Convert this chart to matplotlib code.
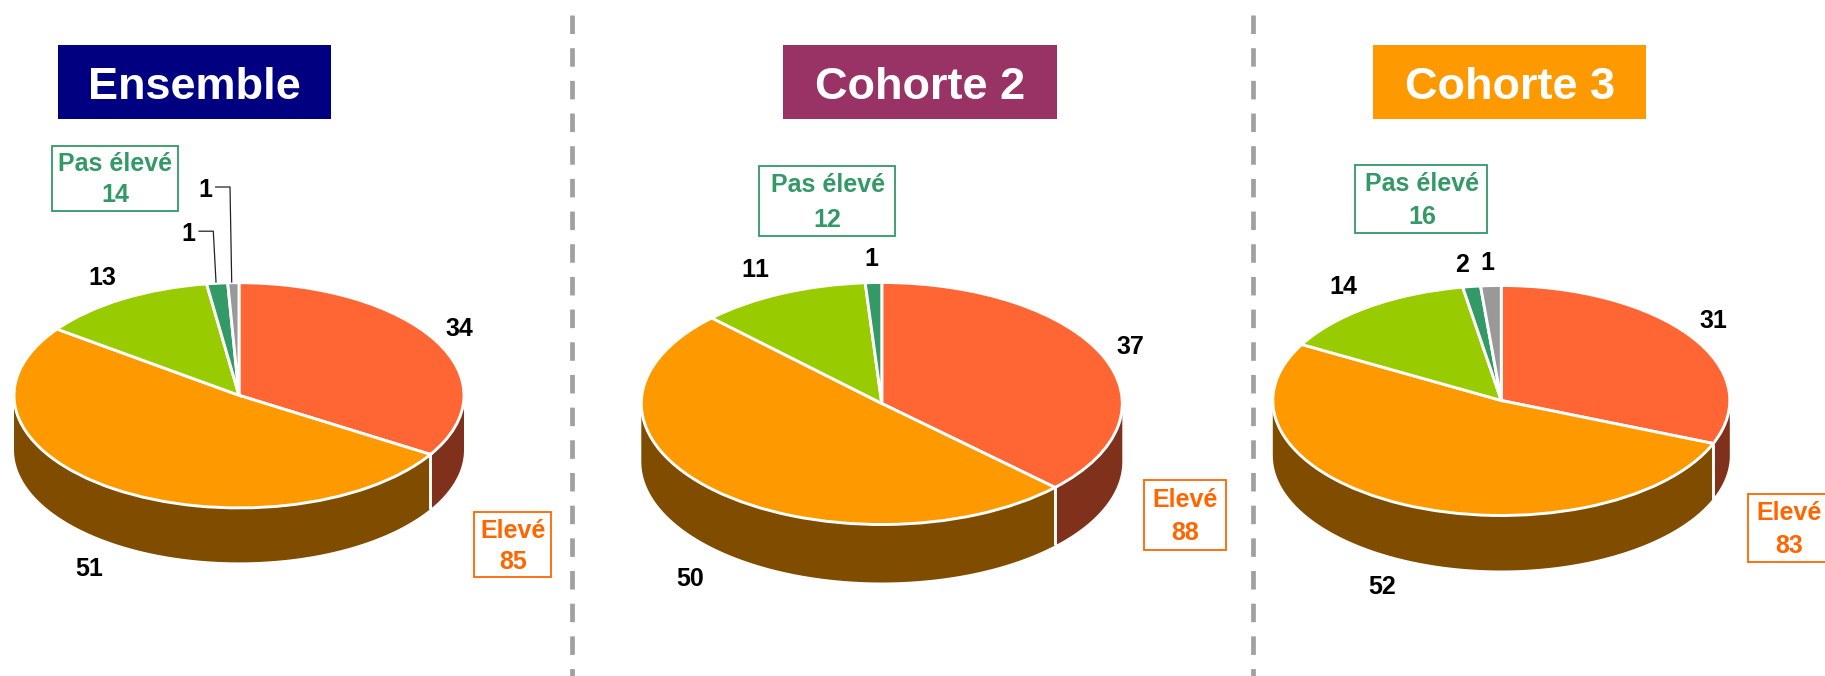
import numpy as np
import matplotlib
matplotlib.use("Agg")
import matplotlib.pyplot as plt
from matplotlib.patches import Rectangle

plt.rcParams['font.family'] = ['Liberation Sans', 'DejaVu Sans']
plt.rcParams['text.kerning_factor'] = 6

# ---------- data ----------
panel_titles = ["Ensemble", "Cohorte 2", "Cohorte 3"]
# printed slice labels
ensemble_labels = [34, 51, 13, 1, 1]
cohorte2_labels = [37, 50, 11, 1]
cohorte3_labels = [31, 52, 14, 2, 1]
# slice shares
ensemble_shares = [33.8, 51.2, 12.7, 1.5, 0.8]
cohorte2_shares = [37.2, 50.3, 11.4, 1.1]
cohorte3_shares = [31.1, 52.0, 14.2, 1.25, 1.45]
eleve_totals = [85, 88, 83]
pas_eleve_totals = [14, 12, 16]
eleve_label = "Elevé"
pas_eleve_label = "Pas élevé"

# ---------- styles and layout (pixels of the 1825x676 figure) ----------
W, H = 1825, 676
top_colors = ["#FF6633", "#FF9900", "#99CC00", "#339966", "#999999"]
side_colors = ["#7F311B", "#7F4C00", "#4C6600", "#194C33", "#4C4C4C"]
title_colors = ["#000080", "#993366", "#FF9900"]
GREEN, ORANGE = "#339966", "#FF6600"

panels = [
    dict(shares=ensemble_shares, labels=ensemble_labels,
         c=(239.0, 395.3), rx=225.0, ry=112.6, d=54.5,
         title_box=(58, 45, 331, 119),
         pas_box=(52.5, 145.5, 178.5, 210.5), pas_xy=(115.5, 161.7, 192.3),
         el_box=(474.5, 512, 551, 576.5), el_xy=(513, 528.3, 559.3),
         label_xy=[(459, 326), (89, 566.7), (102, 275.7), (188.7, 231.7), (205.5, 187.3)]),
    dict(shares=cohorte2_shares, labels=cohorte2_labels,
         c=(881.8, 403.5), rx=240.5, ry=121.0, d=58.0,
         title_box=(783.5, 45, 1057, 119),
         pas_box=(759.5, 165.5, 895, 235.5), pas_xy=(827.8, 182.7, 217.3),
         el_box=(1144, 480, 1226, 549.5), el_xy=(1185.4, 497.7, 531),
         label_xy=[(1130, 345), (690.4, 576), (755.2, 267.7), (871, 256.7)]),
    dict(shares=cohorte3_shares, labels=cohorte3_labels,
         c=(1501.3, 400.5), rx=228.5, ry=115.0, d=55.0,
         title_box=(1373.5, 45, 1646, 119),
         pas_box=(1355.5, 165, 1487.5, 233), pas_xy=(1422, 181.7, 215),
         el_box=(1748, 493.5, 1832, 561.5), el_xy=(1788.8, 510, 543.3),
         label_xy=[(1713.7, 319), (1381.9, 585), (1343, 284), (1462.5, 262), (1487.3, 261)]),
]
leaders = [[(199, 231.2), (213.3, 231.2), (216, 282)],
           [(215.7, 187), (230, 187), (231.7, 282)]]
separators_x = [572.4, 1253.5]

fig = plt.figure(figsize=(W / 100, H / 100), dpi=100, facecolor="white")

# overlay in figure pixels
ov = fig.add_axes([0, 0, 1, 1], zorder=5)
ov.set_xlim(0, W)
ov.set_ylim(H, 0)
ov.axis("off")
ov.patch.set_alpha(0)


def draw_pie(p):
    cx, cy = p["c"]
    rx, ry, d = p["rx"], p["ry"], p["d"]
    m = 1.25
    left, right = cx - m * rx, cx + m * rx
    top, bottom = cy - m * ry, cy + m * ry + d
    ax = fig.add_axes([left / W, 1 - bottom / H, (right - left) / W, (bottom - top) / H], zorder=2)
    vals = p["shares"]
    ax.pie(vals, colors=top_colors[:len(vals)], startangle=90, counterclock=False,
           wedgeprops=dict(edgecolor="white", linewidth=2.1))
    ax.set_aspect("auto")
    dy = d / ry
    ax.set_xlim(-m, m)
    ax.set_ylim(-m - dy, m)
    ax.axis("off")
    # the rim below the front half of the disc
    edges = np.concatenate([[0], np.cumsum(vals)]) / np.sum(vals) * 360.0
    for i in range(len(vals)):
        a, b = max(edges[i], 90.0), min(edges[i + 1], 270.0)
        if b <= a:
            continue
        t = np.radians(np.linspace(a, b, 120))
        xs, ys = np.sin(t), np.cos(t)
        ax.fill(np.r_[xs, xs[::-1]], np.r_[ys, ys[::-1] - dy],
                color=side_colors[i], lw=0, zorder=0)
        if 90.0 < edges[i + 1] < 270.0:
            ax.plot([xs[-1], xs[-1]], [ys[-1], ys[-1] - dy], color="white", lw=2.1,
                    solid_capstyle="butt", zorder=1)


def text_box(box, color):
    x0, y0, x1, y1 = box
    ov.add_patch(Rectangle((x0, y0), x1 - x0, y1 - y0, facecolor="white",
                           edgecolor=color, lw=1.3, zorder=3))


for k, p in enumerate(panels):
    draw_pie(p)
    # title
    x0, y0, x1, y1 = p["title_box"]
    ov.add_patch(Rectangle((x0, y0), x1 - x0, y1 - y0, facecolor=title_colors[k], lw=0))
    ov.text((x0 + x1) / 2, (y0 + y1) / 2 + 1, panel_titles[k], color="white", fontsize=32.5,
            fontweight="bold", ha="center", va="center_baseline")
    # group boxes
    text_box(p["pas_box"], GREEN)
    x, y_a, y_b = p["pas_xy"]
    ov.text(x, y_a, pas_eleve_label, color=GREEN, fontsize=18, fontweight="bold",
            ha="center", va="center_baseline", zorder=4)
    ov.text(x, y_b, str(pas_eleve_totals[k]), color=GREEN, fontsize=18, fontweight="bold",
            ha="center", va="center_baseline", zorder=4)
    text_box(p["el_box"], ORANGE)
    x, y_a, y_b = p["el_xy"]
    ov.text(x, y_a, eleve_label, color=ORANGE, fontsize=18, fontweight="bold",
            ha="center", va="center_baseline", zorder=4)
    ov.text(x, y_b, str(eleve_totals[k]), color=ORANGE, fontsize=18, fontweight="bold",
            ha="center", va="center_baseline", zorder=4)
    # slice values
    for v, (x, y) in zip(p["labels"], p["label_xy"]):
        ov.text(x, y, str(v), color="black", fontsize=18, fontweight="bold",
                ha="center", va="center_baseline", zorder=4)

for pts in leaders:
    xs, ys = zip(*pts)
    ov.plot(xs, ys, color="#222222", lw=0.9, zorder=3)

for x in separators_x:
    ov.plot([x, x], [15, H], color="#A0A0A0", lw=3.4, linestyle=(0, (3.92, 3.0)),
            dash_capstyle="butt", zorder=1)

fig.savefig("out.png", dpi=100, facecolor="white")
